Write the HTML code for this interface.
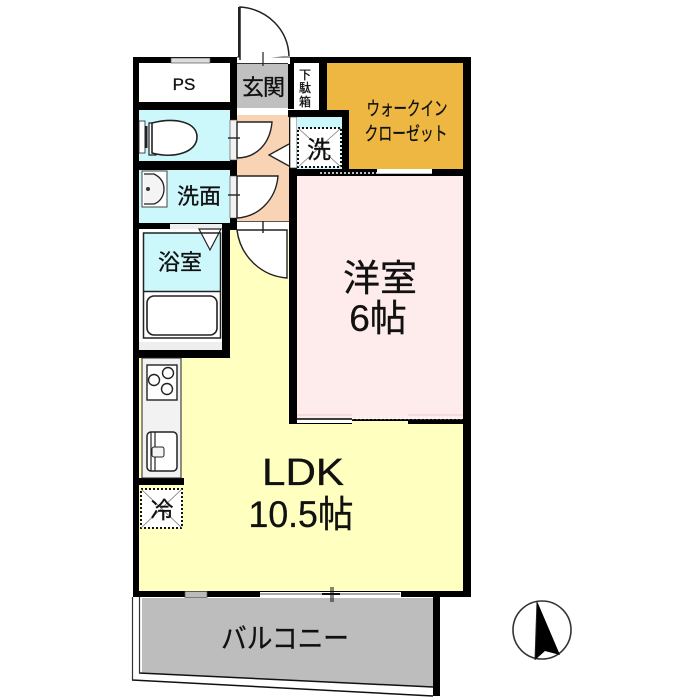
<!DOCTYPE html>
<html><head><meta charset="utf-8"><style>
html,body{margin:0;padding:0;background:#fff}
svg{display:block}
text{font-family:"Liberation Sans","Noto Sans CJK JP",sans-serif;fill:#111;stroke:#111;stroke-width:.3px}
</style></head><body>
<svg width="700" height="700" viewBox="0 0 700 700" xmlns="http://www.w3.org/2000/svg">
<rect width="700" height="700" fill="#fff"/>
<!-- room fills -->
<rect x="139" y="176" width="324" height="415" fill="#ffffc0"/>
<rect x="297" y="176" width="166" height="243" fill="#fdeceb"/>
<path d="M327 63H463V170H349V110H327Z" fill="#edb742"/>
<rect x="237" y="64" width="51" height="44" fill="#c0c0c0"/>
<rect x="237" y="108" width="52" height="7" fill="#fff"/>
<rect x="237" y="115" width="52" height="110" fill="#f8d3b4"/>
<rect x="139" y="110" width="91" height="51" fill="#ccf8fc"/>
<rect x="139" y="170" width="91" height="53" fill="#ccf8fc"/>
<rect x="139" y="228" width="84" height="122" fill="#fff"/>
<rect x="143" y="233" width="77" height="58" fill="#ccf8fc"/>
<!-- balcony -->
<path d="M142 598H433V687L142 673Z" fill="#bdbdbd"/>
<path d="M139 673L433 687" stroke="#111" stroke-width="1.5"/>
<path d="M132 680L433 696" stroke="#111" stroke-width="1.5"/>
<path d="M132.500 597V680M139.500 597V673" stroke="#333" stroke-width="1.2" fill="none"/>
<!-- walls -->
<g fill="#000">
<rect x="133" y="57" width="338" height="6"/>
<rect x="133" y="57" width="6" height="540"/>
<rect x="463" y="57" width="8" height="540"/>
<rect x="133" y="591" width="338" height="6"/>
<rect x="433" y="597" width="7" height="99"/>
<rect x="139" y="102" width="98" height="8"/>
<rect x="139" y="161" width="98" height="9"/>
<rect x="230" y="57" width="7" height="170"/>
<rect x="288" y="57" width="6" height="52"/>
<rect x="319" y="57" width="8" height="53"/>
<rect x="288" y="110" width="61" height="7"/>
<rect x="342" y="110" width="7" height="65"/>
<rect x="290" y="169" width="173" height="7"/>
<rect x="289" y="117" width="8" height="307"/>
<rect x="139" y="223" width="91" height="6"/>
<rect x="222" y="223" width="8" height="135"/>
<rect x="133" y="350" width="97" height="8"/>
<rect x="133" y="478" width="51" height="7"/>
<rect x="230" y="222" width="7" height="8"/>
<rect x="297" y="419" width="174" height="5"/>
</g>
<!-- openings -->
<rect x="237" y="57" width="53" height="7" fill="#fff"/>
<path d="M237 57H290M237 63.5H288" stroke="#333" stroke-width="1"/>
<rect x="170" y="224" width="52" height="5" fill="#eee"/>
<rect x="171" y="58" width="39" height="5" fill="#ddd" stroke="#555" stroke-width=".7"/>
<rect x="185" y="591.5" width="22" height="6" fill="#bbb" stroke="#555" stroke-width=".7"/>
<rect x="260" y="592" width="141" height="5" fill="#fff"/>
<path d="M260 594H400" stroke="#555" stroke-width="1"/>
<rect x="322" y="593" width="18" height="2" fill="#111"/>
<path d="M331 587V602M333 587V602" stroke="#111"/>
<rect x="377" y="169" width="55" height="5" fill="#fff"/>
<rect x="297" y="419" width="55" height="4" fill="#fff"/>
<path d="M320 174.500H432" stroke="#000" stroke-width="1.6"/>
<path d="M320 173H377" stroke="#fff" stroke-width="1.5" stroke-dasharray="2 2"/>
<path d="M352 418.500H463" stroke="#fff" stroke-width="1.5" stroke-dasharray="2 2"/>
<path d="M297 419H352" stroke="#000" stroke-width="1.5"/>
<path d="M352 420.500H408" stroke="#000" stroke-width="1.5"/>
<rect x="352" y="421" width="56" height="4" fill="#ffffc0"/>
<path d="M297 415H352M408 415H463" stroke="#ecc" stroke-width="1"/>
<!-- doors -->
<path d="M240 60V7C268 9 288 30 289 56" fill="#fff" stroke="#222" stroke-width="1.5"/>
<rect x="238" y="7" width="1.5" height="50" fill="#222"/>
<path d="M263 52V66" stroke="#222" stroke-width="1.2"/>
<rect x="230" y="120" width="7" height="40" fill="#f2f2f2" stroke="#444" stroke-width=".6"/>
<path d="M237 122H272C270 145 255 158 237 158Z" fill="#fff" stroke="#222" stroke-width="1.4"/>
<path d="M228 138H240" stroke="#222" stroke-width="1.4"/>
<rect x="230" y="176" width="7" height="42" fill="#f2f2f2" stroke="#444" stroke-width=".6"/>
<path d="M237 176H278C276 200 258 217 237 218Z" fill="#fff" stroke="#222" stroke-width="1.4"/>
<path d="M228 195H240" stroke="#222" stroke-width="1.4"/>
<rect x="237" y="222" width="52" height="8" fill="#fff"/>
<path d="M237 221.500H289" stroke="#555"/>
<path d="M237 230H287V278C260 276 240 255 237 230Z" fill="#fff" stroke="#222" stroke-width="1.4"/>
<path d="M263 221V233" stroke="#222" stroke-width="1.4"/>
<rect x="290" y="117" width="7" height="51" fill="#fff" stroke="#333" stroke-width=".7"/>
<path d="M289 145L269 156L289 167" fill="#fff" stroke="#222" stroke-width="1.3" transform="translate(0 -1)"/>
<path d="M199 229L210 250L221 229Z" fill="#fff" stroke="#222" stroke-width="1.2"/>
<!-- PS / geta -->
<rect x="294" y="64" width="25" height="45" fill="#fff"/>
<!-- toilet -->
<rect x="139" y="121" width="6" height="32" fill="#fff" stroke="#222" stroke-width=".8"/>
<rect x="144.500" y="126" width="3" height="22" fill="#222"/>
<path d="M149 123H156V155H149Z" fill="#fff" stroke="#222" stroke-width="1.2"/>
<path d="M152 123C175 117 197 122 197 137C197 152 175 159 152 153Z" fill="#fff" stroke="#222" stroke-width="1.6"/>
<!-- sink -->
<rect x="142" y="171" width="25" height="36" fill="#fff" stroke="#444"/>
<path d="M144 174H154C162 178 164 184 164 189C164 196 160 202 154 204H144" fill="#f4f4f4" stroke="#222" stroke-width="1.3"/>
<circle cx="148" cy="189" r="2" fill="#333"/>
<!-- bath -->
<rect x="143.500" y="233" width="77" height="105" fill="none" stroke="#222" stroke-width="1.5"/>
<path d="M143 291.500H220" stroke="#222" stroke-width="1.5"/>
<rect x="147" y="296" width="70" height="39" rx="7" fill="#fff" stroke="#222" stroke-width="1.6"/>
<rect x="139" y="342" width="83" height="8" fill="#eee"/>
<!-- kitchen -->
<rect x="142" y="358" width="39" height="120" fill="#f2f2f2" stroke="#222" stroke-width="1"/>
<rect x="147" y="365" width="30" height="35" fill="#fff" stroke="#222" stroke-width="1.4"/>
<circle cx="154" cy="380" r="5.500" fill="#fff" stroke="#222" stroke-width="1.4"/>
<circle cx="168" cy="373" r="5.500" fill="#fff" stroke="#222" stroke-width="1.4"/>
<circle cx="167" cy="389" r="5.500" fill="#fff" stroke="#222" stroke-width="1.4"/>
<rect x="147" y="432" width="30" height="39" rx="4" fill="#fff" stroke="#222" stroke-width="1.5"/>
<path d="M151 432V471M155 432V471" stroke="#222" stroke-width="1.2"/>
<rect x="152" y="447" width="12" height="10" rx="2" fill="#f4f4f4" stroke="#222"/>
<!-- fridge -->
<rect x="141" y="489" width="41" height="39" fill="#fff" stroke="#111" stroke-width="2" stroke-dasharray="2 2"/>
<path d="M141 489L182 528M182 489L141 528" stroke="#777" stroke-width=".8"/>
<!-- washer -->
<rect x="297" y="117" width="45" height="52" fill="#ccf8fc"/>
<rect x="298" y="128" width="43" height="39" fill="#fff" stroke="#111" stroke-width="2" stroke-dasharray="2 2"/>
<path d="M298 128L341 167M341 128L298 167" stroke="#777" stroke-width=".8"/>
<!-- compass -->
<circle cx="542" cy="630" r="29" fill="#fff" stroke="#333" stroke-width="1.6"/>
<path d="M537 601L560 655L545 651L535 660Z" fill="#000"/>
<path d="M537 601L535 660" stroke="#222"/>
<!-- labels -->
<text x="184" y="90" font-size="17" text-anchor="middle">PS</text>
<text x="263" y="95" font-size="22" text-anchor="middle" style="letter-spacing:-1px">玄関</text>
<text x="305" y="79" font-size="12" text-anchor="middle">下</text>
<text x="305" y="92" font-size="12" text-anchor="middle">駄</text>
<text x="305" y="106" font-size="12" text-anchor="middle">箱</text>
<text x="407" y="115" font-size="19" text-anchor="middle" textLength="81" lengthAdjust="spacingAndGlyphs">ウォークイン</text>
<text x="406" y="140" font-size="19" text-anchor="middle" textLength="83" lengthAdjust="spacingAndGlyphs">クローゼット</text>
<text x="319" y="158" font-size="24" text-anchor="middle">洗</text>
<text x="199" y="204" font-size="22" text-anchor="middle">洗面</text>
<text x="180" y="270" font-size="22" text-anchor="middle">浴室</text>
<text x="162" y="518" font-size="23" text-anchor="middle">冷</text>
<text x="380" y="291" font-size="37" text-anchor="middle">洋室</text>
<text x="378" y="331" font-size="37" text-anchor="middle">6帖</text>
<text x="303" y="485" font-size="38" text-anchor="middle" textLength="82" lengthAdjust="spacingAndGlyphs">LDK</text>
<text x="301" y="527" font-size="37" text-anchor="middle" textLength="105" lengthAdjust="spacingAndGlyphs">10.5帖</text>
<text x="285" y="648" font-size="28" text-anchor="middle" textLength="128" lengthAdjust="spacingAndGlyphs">バルコニー</text>
</svg>
</body></html>
